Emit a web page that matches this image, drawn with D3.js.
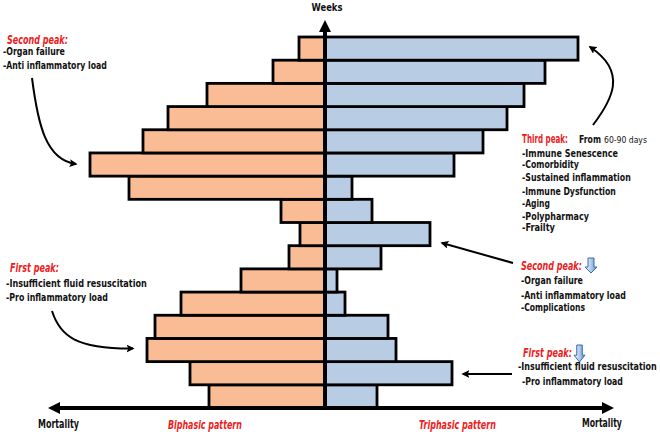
<!DOCTYPE html>
<html>
<head>
<meta charset="utf-8">
<script src="https://cdn.jsdelivr.net/npm/d3@7"></script>
<style>
  html, body { margin: 0; padding: 0; background: #fff; }
  svg { display: block; }
  text { font-family: "DejaVu Sans Condensed", "Noto Sans", sans-serif; }
</style>
</head>
<body>
<svg id="chart" width="660" height="432"></svg>
<script>
// ---- Data (week 1 at the bottom, week 16 at the top) ----
const weeks = d3.range(1, 17);
const biphasic  = [116, 135, 178, 170, 144, 84, 36, 25, 44, 196, 235, 182, 157, 118, 52, 26];
const triphasic = [52, 127, 71, 63, 20, 12, 56, 105, 47, 27, 129, 158, 182, 199, 220, 253];
const axisLabels = { y: "Weeks", left: "Mortality", right: "Mortality" };
const patternLabels = ["Biphasic pattern", "Triphasic pattern"];

const svg = d3.select("#chart");
const cx = 325, axisY = 408;

const y = d3.scaleBand().domain(weeks).range([axisY, 37]).paddingInner(0).paddingOuter(0);
const xL = d3.scaleLinear().domain([0, 260]).range([cx, cx - 260]);
const xR = d3.scaleLinear().domain([0, 260]).range([cx, cx + 260]);

// defs: arrow marker and gradient for blue icons
const defs = svg.append("defs");
defs.append("marker").attr("id", "ah").attr("viewBox", "0 0 10 10")
  .attr("refX", 8).attr("refY", 5).attr("markerWidth", 4).attr("markerHeight", 4)
  .attr("orient", "auto").attr("markerUnits", "strokeWidth")
  .append("path").attr("d", "M0,0 L10,5 L0,10 L2,5 Z").attr("fill", "#000");
const grad = defs.append("linearGradient").attr("id", "bg").attr("x1", 0).attr("x2", 1).attr("y1", 0).attr("y2", 0);
grad.append("stop").attr("offset", "0%").attr("stop-color", "#ffffff");
grad.append("stop").attr("offset", "60%").attr("stop-color", "#9fc0e6");
grad.append("stop").attr("offset", "100%").attr("stop-color", "#5b88c4");

// bars
const bw = 2.8;
svg.append("g").selectAll("rect").data(weeks).join("rect")
  .attr("x", (d, i) => xL(biphasic[i]))
  .attr("y", d => y(d))
  .attr("width", (d, i) => cx - xL(biphasic[i]))
  .attr("height", y.bandwidth())
  .attr("fill", "#F9BC94").attr("stroke", "#000").attr("stroke-width", bw);
svg.append("g").selectAll("rect").data(weeks).join("rect")
  .attr("x", cx)
  .attr("y", d => y(d))
  .attr("width", (d, i) => xR(triphasic[i]) - cx)
  .attr("height", y.bandwidth())
  .attr("fill", "#B8CCE4").attr("stroke", "#000").attr("stroke-width", bw);

// axes
svg.append("line").attr("x1", cx).attr("x2", cx).attr("y1", axisY + 2).attr("y2", 30)
  .attr("stroke", "#000").attr("stroke-width", 4);
svg.append("path").attr("d", `M${cx},20 L${cx - 6},32 L${cx + 6},32 Z`).attr("fill", "#000");
svg.append("line").attr("x1", 58).attr("x2", 604).attr("y1", axisY).attr("y2", axisY)
  .attr("stroke", "#000").attr("stroke-width", 4);
svg.append("path").attr("d", `M48,${axisY} L60,${axisY - 6} L60,${axisY + 6} Z`).attr("fill", "#000");
svg.append("path").attr("d", `M614,${axisY} L602,${axisY - 6} L602,${axisY + 6} Z`).attr("fill", "#000");

// text helper: condenses the text horizontally to fit the target width
function txt(s, x, yy, w, opts = {}) {
  const size = opts.size || 11;
  const t = svg.append("text").attr("x", 0).attr("y", 0)
    .attr("dominant-baseline", "central")
    .attr("font-size", size)
    .attr("fill", opts.color || "#111")
    .attr("font-weight", opts.weight || "bold")
    .attr("font-style", opts.style || "normal")
    .text(s);
  let sx = 1;
  if (w) { const nat = t.node().getComputedTextLength(); sx = w / nat; }
  t.attr("transform", `translate(${x},${yy}) scale(${sx},1)`);
  return t;
}
const red = { color: "#ee1c1c", weight: "bold", style: "italic", size: 12 };

txt(axisLabels.y, 311.5, 7, 31, { size: 11 });
txt(axisLabels.left, 38, 423, 41, { size: 12 });
txt(axisLabels.right, 582, 422, 40, { size: 12 });
txt(patternLabels[0], 168, 424, 74, Object.assign({}, red, { size: 12 }));
txt(patternLabels[1], 419, 424, 77, Object.assign({}, red, { size: 12 }));

// left annotations
txt("Second peak:", 7, 39, 61, red);
txt("-Organ failure", 3, 51.5, 62);
txt("-Anti inflammatory load", 3, 65, 104);
txt("First peak:", 10, 267, 49, red);
txt("-Insufficient fluid resuscitation", 6, 283, 141);
txt("-Pro inflammatory load", 6, 297, 102);

// right: third peak
txt("Third peak:", 522, 139, 46, Object.assign({}, red, { style: "normal", size: 11.5 }));
txt("From", 579, 139, 22, { size: 11 });
txt("60-90 days", 604, 140, 43, { size: 8.5, weight: "normal" });
const third = [["-Immune Senescence", 153, 96], ["-Comorbidity", 164.5, 57], ["-Sustained inflammation", 177, 109],
  ["-Immune Dysfunction", 191.5, 94], ["-Aging", 203, 28], ["-Polypharmacy", 216, 67], ["-Frailty", 227.5, 33]];
third.forEach(d => txt(d[0], 522, d[1], d[2], { size: 10 }));

// right: second peak
txt("Second peak:", 521, 265.5, 61, red);
txt("-Organ failure", 521, 280, 62);
txt("-Anti inflammatory load", 521, 295, 105);
txt("-Complications", 521, 307.5, 64, { size: 10.5 });

// right: first peak
txt("First peak:", 523, 352, 49, red);
txt("-Insufficient fluid resuscitation", 518, 366.5, 139);
txt("-Pro inflammatory load", 522, 381, 101);

// blue down arrows
function downArrow(x0, y0, w, h) {
  const sw = w * 0.5, sx = x0 + (w - sw) / 2, hy = y0 + h * 0.6;
  svg.append("path")
    .attr("d", `M${sx},${y0} L${sx + sw},${y0} L${sx + sw},${hy} L${x0 + w},${hy} L${x0 + w / 2},${y0 + h} L${x0},${hy} L${sx},${hy} Z`)
    .attr("fill", "url(#bg)").attr("stroke", "#3e6aa8").attr("stroke-width", 1);
}
downArrow(585, 258, 12, 15);
downArrow(574, 345, 11, 17);

// arrows
const arr = (d) => svg.append("path").attr("d", d).attr("fill", "none")
  .attr("stroke", "#000").attr("stroke-width", 2).attr("marker-end", "url(#ah)");
arr("M32,78 C38,125 46,160 76,164");
arr("M52,311 C60,336 76,349 133,348.5");
arr("M593,125 C612,100 628,72 590,47");
arr("M513,263 L442,243");
arr("M512,374 L463,374");
</script>
</body>
</html>
